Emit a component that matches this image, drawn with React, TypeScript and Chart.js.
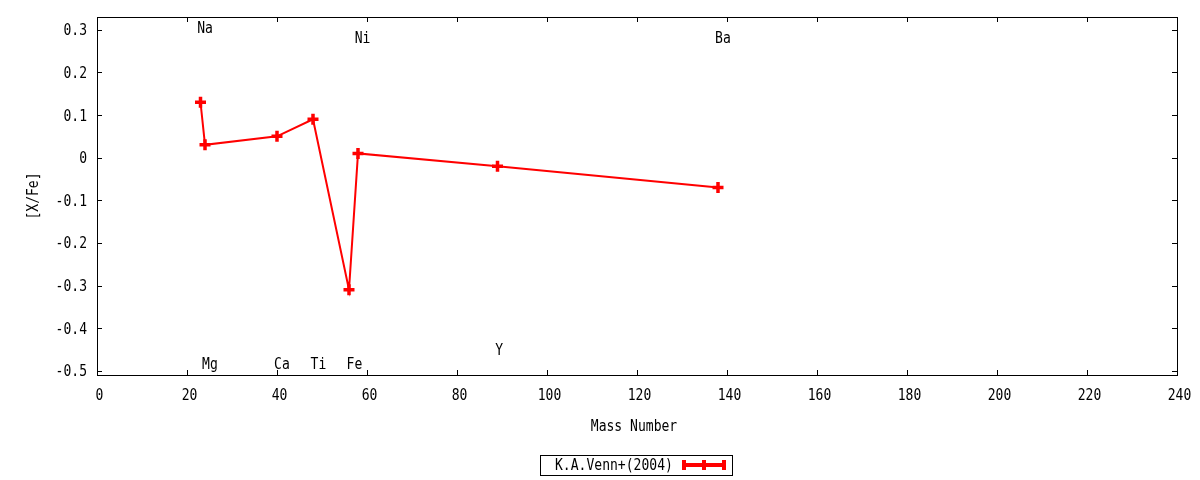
import React, { useEffect, useRef } from "react";
import { Chart, registerables, type ChartConfiguration, type Plugin } from "chart.js";

Chart.register(...registerables);

// [X/Fe] abundance ratios vs mass number
const massNumbers = [23, 24, 40, 48, 56, 58, 89, 138];
const abundances = [0.13, 0.03, 0.05, 0.09, -0.31, 0.01, -0.02, -0.07];
const seriesLabel = "K.A.Venn+(2004)";

// element labels in data coordinates (centre x, baseline y)
const elementNames = ["Na", "Mg", "Ca", "Ti", "Fe", "Ni", "Y", "Ba"];
const elementLabelX = [24, 25.1, 41.1, 49.2, 57.2, 59, 89.4, 139.1];
const elementLabelY = [0.292, -0.496, -0.496, -0.496, -0.496, 0.269, -0.463, 0.269];

const xTicks = [0, 20, 40, 60, 80, 100, 120, 140, 160, 180, 200, 220, 240];
const yTicks = [-0.5, -0.4, -0.3, -0.2, -0.1, 0, 0.1, 0.2, 0.3];

const xTitle = "Mass Number";
const yTitle = "[X/Fe]";

// gnuplot's text looks like a horizontally squeezed DejaVu Sans Mono
const FONT = '15px "DejaVu Sans Mono", monospace';
const SQUEEZE = 0.87;
const RED = "#ff0000";

function drawText(
  ctx: CanvasRenderingContext2D,
  text: string,
  x: number,
  y: number,
  align: CanvasTextAlign,
  rotated = false,
) {
  ctx.save();
  ctx.translate(x, y);
  if (rotated) ctx.rotate(-Math.PI / 2);
  ctx.scale(SQUEEZE, 1);
  ctx.font = FONT;
  ctx.fillStyle = "#000";
  ctx.textAlign = align;
  ctx.textBaseline = "alphabetic";
  ctx.fillText(text, 0, 0);
  ctx.restore();
}

const gnuplotFrame: Plugin<"line"> = {
  id: "gnuplotFrame",
  afterDraw(chart) {
    const { ctx, chartArea, scales } = chart;
    const { left, right, top, bottom } = chartArea;
    const xs = scales.x;
    const ys = scales.y;
    const tick = 5;
    const snap = (v: number) => Math.round(v) + 0.5;

    ctx.save();
    ctx.strokeStyle = "#000";
    ctx.lineWidth = 1;

    // inward ticks on all four sides
    ctx.beginPath();
    xTicks.forEach((v) => {
      const px = snap(xs.getPixelForValue(v));
      ctx.moveTo(px, bottom);
      ctx.lineTo(px, bottom - tick);
      ctx.moveTo(px, top);
      ctx.lineTo(px, top + tick);
    });
    yTicks.forEach((v) => {
      const py = snap(ys.getPixelForValue(v));
      ctx.moveTo(left, py);
      ctx.lineTo(left + tick, py);
      ctx.moveTo(right, py);
      ctx.lineTo(right - tick, py);
    });
    ctx.stroke();

    ctx.strokeRect(snap(left), snap(top), Math.round(right - left), Math.round(bottom - top));

    // tick labels
    xTicks.forEach((v) => {
      drawText(ctx, String(v), xs.getPixelForValue(v) + 2.5, bottom + 25, "center");
    });
    yTicks.forEach((v) => {
      drawText(ctx, String(v), left - 10, ys.getPixelForValue(v) + 5.5, "right");
    });

    // element labels
    elementNames.forEach((name, i) => {
      drawText(ctx, name, xs.getPixelForValue(elementLabelX[i]), ys.getPixelForValue(elementLabelY[i]), "center");
    });

    // axis titles
    const cx = (left + right) / 2;
    drawText(ctx, xTitle, cx - 3, 430.5, "center");
    drawText(ctx, yTitle, 37.5, (top + bottom) / 2, "center", true);

    // legend box
    const boxW = 192;
    const boxL = Math.round(cx - 1 - boxW / 2);
    const boxT = 455;
    const boxH = 20;
    ctx.strokeRect(boxL + 0.5, boxT + 0.5, boxW, boxH);
    drawText(ctx, seriesLabel, boxL + 15, boxT + 15, "left");

    const ly = boxT + boxH / 2;
    const l0 = boxL + 142;
    const l1 = boxL + 186;
    ctx.strokeStyle = RED;
    ctx.lineWidth = 4;
    ctx.beginPath();
    ctx.moveTo(l0, ly);
    ctx.lineTo(l1, ly);
    ctx.moveTo(l0 + 2, ly - 5);
    ctx.lineTo(l0 + 2, ly + 5);
    ctx.moveTo(l1 - 2, ly - 5);
    ctx.lineTo(l1 - 2, ly + 5);
    const mid = (l0 + l1) / 2;
    ctx.moveTo(mid, ly - 5);
    ctx.lineTo(mid, ly + 5);
    ctx.stroke();

    ctx.restore();
  },
};

export default function App() {
  const canvasRef = useRef<HTMLCanvasElement | null>(null);
  const chartRef = useRef<Chart<"line"> | null>(null);

  useEffect(() => {
    if (!canvasRef.current) return;

    const config: ChartConfiguration<"line"> = {
      type: "line",
      data: {
        datasets: [
          {
            label: seriesLabel,
            data: massNumbers.map((m, i) => ({ x: m, y: abundances[i] })),
            borderColor: RED,
            backgroundColor: RED,
            borderWidth: 2,
            tension: 0,
            pointStyle: "cross",
            pointRadius: 5.5,
            pointBorderWidth: 3.5,
            pointBorderColor: RED,
            pointHoverRadius: 5.5,
          },
        ],
      },
      options: {
        responsive: true,
        maintainAspectRatio: false,
        animation: false,
        layout: { padding: { top: 17, right: 23, bottom: 0, left: 0 } },
        plugins: {
          legend: { display: false },
          tooltip: { enabled: false },
        },
        scales: {
          x: {
            type: "linear",
            min: 0,
            max: 240,
            grid: { display: false, drawTicks: false },
            border: { display: false },
            ticks: { display: false },
            afterFit: (s) => {
              s.height = 105;
            },
          },
          y: {
            type: "linear",
            min: -0.51,
            max: 0.33,
            grid: { display: false, drawTicks: false },
            border: { display: false },
            ticks: { display: false },
            afterFit: (s) => {
              s.width = 97;
            },
          },
        },
      },
      plugins: [gnuplotFrame],
    };

    chartRef.current = new Chart(canvasRef.current, config);

    return () => {
      chartRef.current?.destroy();
      chartRef.current = null;
    };
  }, []);

  return (
    <div style={{ position: "absolute", left: 0, top: 0, width: 1200, height: 480, background: "#fff" }}>
      <canvas ref={canvasRef} aria-label="[X/Fe] vs mass number chart" />
    </div>
  );
}
